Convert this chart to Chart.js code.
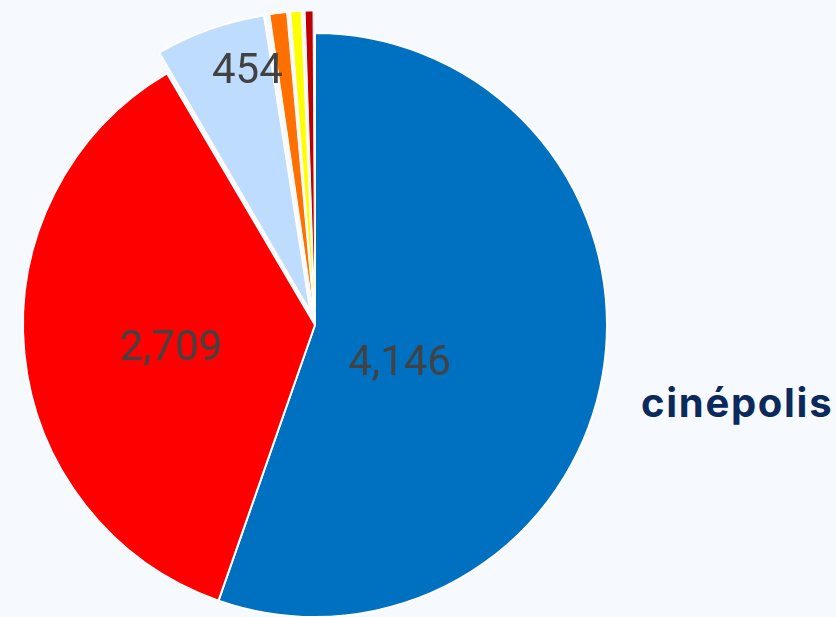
<!DOCTYPE html>
<html>
<head>
<meta charset="utf-8">
<script src="https://cdn.jsdelivr.net/npm/chart.js@4.4.0/dist/chart.umd.min.js"></script>
<style>
  html, body { margin: 0; padding: 0; background: #f6f9fe; width: 836px; height: 617px; overflow: hidden; }
  .pie-wrap { position: absolute; left: -5px; top: 5px; width: 640px; height: 640px; }
  .logo { position: absolute; left: 641px; top: 383px; font-family: Inter, "Noto Sans", sans-serif; font-weight: 700;
          font-size: 40px; color: #0b2a5b; letter-spacing: 1.7px; line-height: 1; }
</style>
</head>
<body>
<div class="pie-wrap"><canvas class="my-chart"></canvas></div>
<div class="logo">cinépolis</div>
<script>
const labels = ["A", "B", "C", "D", "E", "F"];
const values = [4146, 2709, 454, 80, 55, 45];
const colors = ["#0070c0", "#ff0000", "#bddcfe", "#ff7000", "#ffff00", "#c00000"];
const offsets = [0, 0, 54, 45, 45, 45];
// where the value text sits: fraction of radius + small angle nudge (rad)
const labelPos = [{r: 0.32, da: 0.27}, {r: 0.5, da: -0.07}, {r: 0.82, da: 0.08}];

const valueLabels = {
    id: "valueLabels",
    afterDatasetsDraw(chart) {
        const ctx = chart.ctx;
        const arcs = chart.getDatasetMeta(0).data;
        ctx.save();
        ctx.font = "42px Roboto, sans-serif";
        ctx.fillStyle = "#424242";
        ctx.textAlign = "center";
        ctx.textBaseline = "middle";
        labelPos.forEach((p, i) => {
            const a = arcs[i];
            const mid = (a.startAngle + a.endAngle) / 2 + p.da;
            const circ = a.endAngle - a.startAngle;
            const off = (offsets[i] / 4) * (2 - Math.sin(Math.min(Math.PI, circ)));
            const rr = a.outerRadius * p.r + off;
            const x = a.x + Math.cos(mid) * rr;
            const y = a.y + Math.sin(mid) * rr;
            ctx.fillText(values[i].toLocaleString("en-US"), x, y);
        });
        ctx.restore();
    }
};

const myChart = document.querySelector(".my-chart");
new Chart(myChart, {
    type: "pie",
    data: {
        labels: labels,
        datasets: [
            {
                data: values,
                backgroundColor: colors,
                borderColor: "#ffffff",
                borderWidth: [2, 2, 2, 1, 1, 1],
                offset: offsets,
                hoverOffset: 0,
            },
        ],
    },
    options: {
        responsive: true,
        maintainAspectRatio: false,
        animation: false,
        layout: { padding: 0 },
        plugins: {
            legend: { display: false },
            tooltip: { enabled: false },
        },
    },
    plugins: [valueLabels],
});
</script>
</body>
</html>
